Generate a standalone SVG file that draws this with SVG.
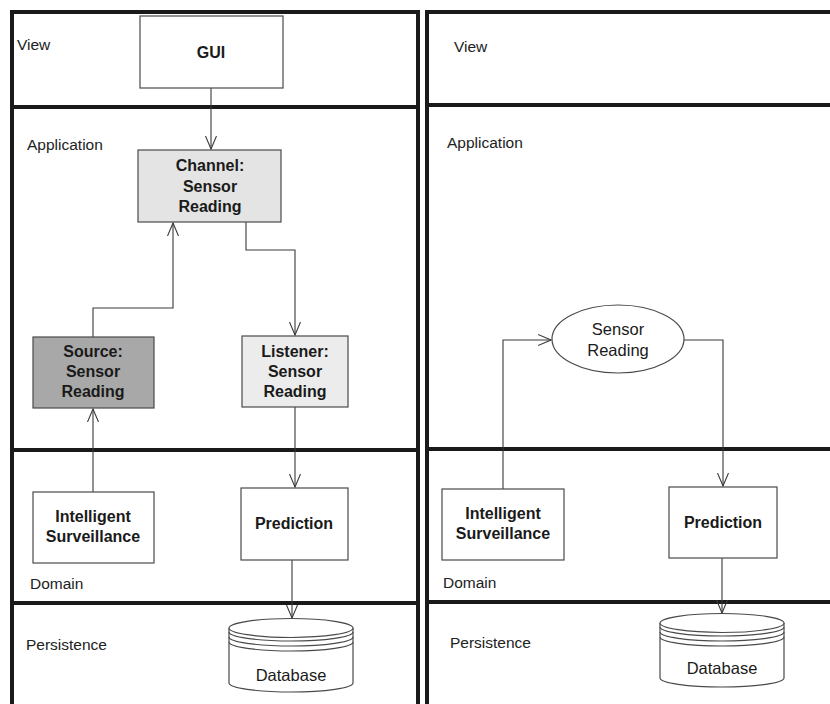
<svg xmlns="http://www.w3.org/2000/svg" width="830" height="704" viewBox="0 0 830 704">
<style>
.panel{fill:none;stroke:#1a1a1a;stroke-width:4}
.div{stroke:#1a1a1a;stroke-width:4}
.box{stroke:#4a4a4a;stroke-width:1.2}
.lbl{font-family:"Liberation Sans",Arial,sans-serif;font-size:15.5px;fill:#222}
.nt{font-family:"Liberation Sans",Arial,sans-serif;font-size:16px;font-weight:bold;fill:#1a1a1a;text-anchor:middle}
.nn{font-family:"Liberation Sans",Arial,sans-serif;font-size:16.5px;fill:#1a1a1a;text-anchor:middle}
.conn{fill:none;stroke:#3a3a3a;stroke-width:1.1}
.db{fill:#fff;stroke:#4a4a4a;stroke-width:1.2}
.arc{fill:none;stroke:#4a4a4a;stroke-width:1.2}
</style>
<defs>
<marker id="arr" markerWidth="14" markerHeight="12" refX="13" refY="6" orient="auto" markerUnits="userSpaceOnUse">
<path d="M0,0.5 L13,6 L0,11.5" fill="none" stroke="#3a3a3a" stroke-width="1.1"/>
</marker>
</defs>
<rect width="830" height="704" fill="#fff"/>

<g id="left-panel">
<rect class="panel" x="12" y="12" width="406" height="710"/>
<line class="div" x1="12" y1="107" x2="418" y2="107"/>
<line class="div" x1="12" y1="450" x2="418" y2="450"/>
<line class="div" x1="12" y1="603" x2="418" y2="603"/>
<text class="lbl" x="17" y="50">View</text>
<text class="lbl" x="27" y="150">Application</text>
<text class="lbl" x="30" y="589">Domain</text>
<text class="lbl" x="26" y="650">Persistence</text>
</g>

<g id="right-panel">
<rect class="panel" x="427" y="12" width="410" height="710"/>
<line class="div" x1="427" y1="105" x2="837" y2="105"/>
<line class="div" x1="427" y1="449" x2="837" y2="449"/>
<line class="div" x1="427" y1="602" x2="837" y2="602"/>
<text class="lbl" x="454" y="52">View</text>
<text class="lbl" x="447" y="148">Application</text>
<text class="lbl" x="443" y="588">Domain</text>
<text class="lbl" x="450" y="648">Persistence</text>
</g>

<g id="connectors">
<path class="conn" d="M211,88 V149" marker-end="url(#arr)"/>
<path class="conn" d="M93,337 V308 H173 V223" marker-end="url(#arr)"/>
<path class="conn" d="M246,222 V250 H295 V335" marker-end="url(#arr)"/>
<path class="conn" d="M93,492 V409" marker-end="url(#arr)"/>
<path class="conn" d="M295,407 V487" marker-end="url(#arr)"/>
<path class="conn" d="M292,560 V618" marker-end="url(#arr)"/>
<path class="conn" d="M503,489 V340 H551" marker-end="url(#arr)"/>
<path class="conn" d="M684,340 H723 V486" marker-end="url(#arr)"/>
<path class="conn" d="M722,558 V613" marker-end="url(#arr)"/>
</g>

<g id="gui">
<rect class="box" x="140" y="16" width="143" height="72" fill="#fff"/>
<text class="nt" x="211" y="58">GUI</text>
</g>

<g id="channel">
<rect class="box" x="138" y="150" width="143" height="72" fill="#e4e4e4"/>
<text class="nt" x="210" y="171">Channel:</text>
<text class="nt" x="210" y="192">Sensor</text>
<text class="nt" x="210" y="212">Reading</text>
</g>

<g id="source">
<rect class="box" x="33" y="337" width="121" height="71" fill="#a8a8a8"/>
<text class="nt" x="93" y="357">Source:</text>
<text class="nt" x="93" y="377">Sensor</text>
<text class="nt" x="93" y="397">Reading</text>
</g>

<g id="listener">
<rect class="box" x="242" y="336" width="106" height="71" fill="#ececec"/>
<text class="nt" x="295" y="357">Listener:</text>
<text class="nt" x="295" y="377">Sensor</text>
<text class="nt" x="295" y="397">Reading</text>
</g>

<g id="intelligent-surveillance-left">
<rect class="box" x="33" y="492" width="121" height="71" fill="#fff"/>
<text class="nt" x="93" y="522">Intelligent</text>
<text class="nt" x="93" y="542">Surveillance</text>
</g>

<g id="prediction-left">
<rect class="box" x="241" y="488" width="107" height="72" fill="#fff"/>
<text class="nt" x="294" y="529">Prediction</text>
</g>

<g id="database-left">
<path class="db" d="M229,628 V683 A62,9 0 0 0 353,683 V628"/>
<ellipse class="db" cx="291" cy="628" rx="62" ry="9.5"/>
<path class="arc" d="M229,632 A62,9 0 0 0 353,632"/>
<path class="arc" d="M229,637 A62,9 0 0 0 353,637"/>
<path class="arc" d="M229,642 A62,9 0 0 0 353,642"/>
<text class="nn" x="291" y="681">Database</text>
</g>

<g id="sensor-reading">
<ellipse class="box" cx="618" cy="339" rx="66" ry="34" fill="#fff"/>
<text class="nn" x="618" y="335">Sensor</text>
<text class="nn" x="618" y="356">Reading</text>
</g>

<g id="intelligent-surveillance-right">
<rect class="box" x="442" y="489" width="122" height="71" fill="#fff"/>
<text class="nt" x="503" y="519">Intelligent</text>
<text class="nt" x="503" y="539">Surveillance</text>
</g>

<g id="prediction-right">
<rect class="box" x="669" y="487" width="108" height="71" fill="#fff"/>
<text class="nt" x="723" y="528">Prediction</text>
</g>

<g id="database-right">
<path class="db" d="M660,623 V678 A62,9 0 0 0 784,678 V623"/>
<ellipse class="db" cx="722" cy="623" rx="62" ry="9.5"/>
<path class="arc" d="M660,627 A62,9 0 0 0 784,627"/>
<path class="arc" d="M660,632 A62,9 0 0 0 784,632"/>
<path class="arc" d="M660,637 A62,9 0 0 0 784,637"/>
<text class="nn" x="722" y="674">Database</text>
</g>
</svg>
